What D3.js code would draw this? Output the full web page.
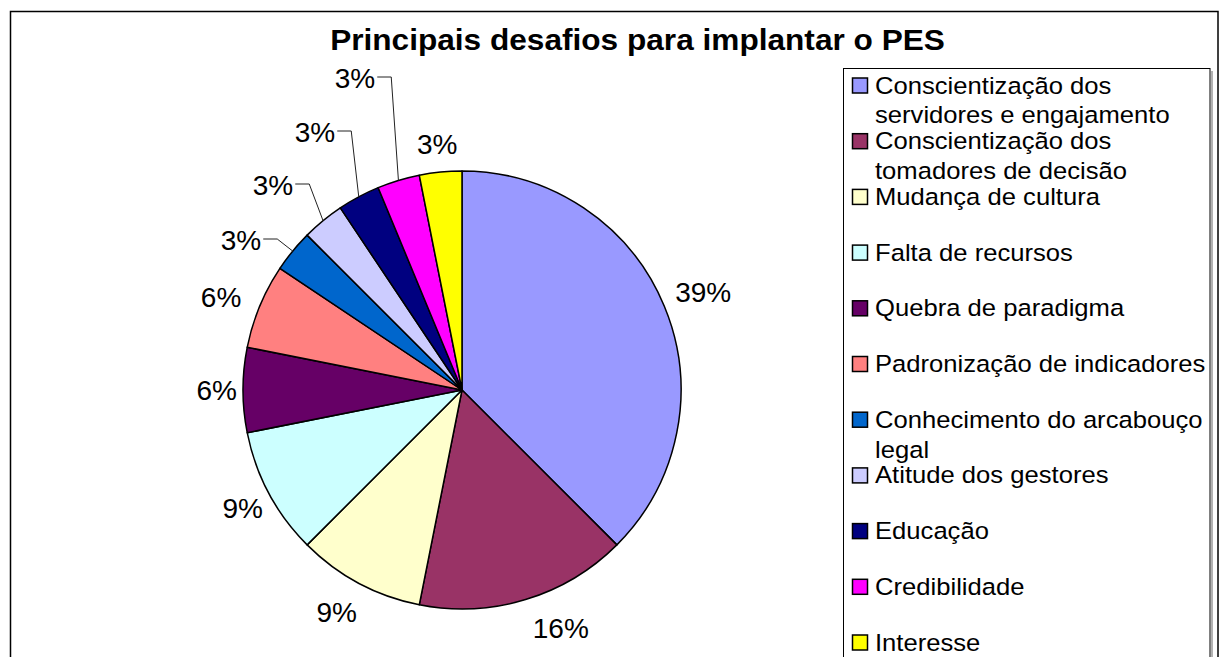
<!DOCTYPE html>
<html><head><meta charset="utf-8">
<script src="https://cdn.jsdelivr.net/npm/d3@7/dist/d3.min.js"></script>
<style>body{margin:0;background:#fff}svg{display:block}text{font-family:"Liberation Sans",Arial,sans-serif;fill:#000}</style>
</head><body><svg id="c" width="1220" height="657"></svg>
<script>
// ---- data ----
const title = "Principais desafios para implantar o PES";
const categories = [
  "Conscientização dos servidores e engajamento",
  "Conscientização dos tomadores de decisão",
  "Mudança de cultura",
  "Falta de recursos",
  "Quebra de paradigma",
  "Padronização de indicadores",
  "Conhecimento do arcabouço legal",
  "Atitude dos gestores",
  "Educação",
  "Credibilidade",
  "Interesse"
];
const values = [12, 5, 3, 3, 2, 2, 1, 1, 1, 1, 1];
const percentLabels = ["39%", "16%", "9%", "9%", "6%", "6%", "3%", "3%", "3%", "3%", "3%"];
const colors = ["#9999FF","#993366","#FFFFCC","#CCFFFF","#660066","#FF8080","#0066CC","#CCCCFF","#000080","#FF00FF","#FFFF00"];

// ---- layout ----
const cx = 462, cy = 390, r = 219, labelR = r + 14;
const labelNudge = {0:[0,-5],1:[23,5],2:[-6,8],3:[4,3],4:[8,0],5:[-7,0],10:[0,-4]};
const leaderLabels = {6:[-221,-150],7:[-189,-205],8:[-147,-258],9:[-107,-312]};

const svg = d3.select("#c");
svg.append("rect").attr("width",1220).attr("height",657).attr("fill","#fff");
svg.append("rect").attr("x",10.5).attr("y",11.5).attr("width",1207.5).attr("height",700)
  .attr("fill","#fff").attr("stroke","#000").attr("stroke-width",1.5);

svg.append("g").attr("transform","translate(637.5,50) scale(1.09,1)")
  .append("text").attr("text-anchor","middle").attr("font-size",29).attr("font-weight","bold").text(title);

const pie = d3.pie().sort(null).value(d => d);
const arcs = pie(values);
const arc = d3.arc().innerRadius(0).outerRadius(r);
const g = svg.append("g").attr("transform",`translate(${cx},${cy})`);
g.selectAll("path.s").data(arcs).join("path").attr("class","s")
  .attr("d",arc).attr("fill",(d,i)=>colors[i]).attr("stroke","#000").attr("stroke-width",1.5).attr("stroke-linejoin","round");

// labels
arcs.forEach((a,i) => {
  const th = (a.startAngle + a.endAngle)/2;
  const s = Math.sin(th), c = Math.cos(th);
  const t = g.append("text").attr("font-size",28).attr("text-anchor","middle").text(percentLabels[i]);
  const w = t.node().getComputedTextLength(), h = 20;
  let x, y;
  if (leaderLabels[i]) {
    [x, y] = leaderLabels[i];
    const xs = x + w/2 + 2, xe = xs + 14, ly = y - 1;
    const mx = r * s, my = -r * c;
    g.append("polyline").attr("points",`${xs},${ly} ${xe},${ly} ${mx},${my}`)
      .attr("fill","none").attr("stroke","#222").attr("stroke-width",1);
  } else {
    x = labelR * s + s * w/2;
    y = -labelR * c - c * h/2;
    const n = labelNudge[i] || [0,0];
    x += n[0]; y += n[1];
  }
  t.attr("x",x).attr("y",y + h/2);
});

// legend
const lx = 843.5, ly0 = 68.5;
svg.append("line").attr("x1",1212).attr("x2",1212).attr("y1",71).attr("y2",657).attr("stroke","#999").attr("stroke-width",1.5);
svg.append("rect").attr("x",lx).attr("y",ly0).attr("width",366.5).attr("height",650)
  .attr("fill","#fff").attr("stroke","#000").attr("stroke-width",1);
const base0 = 93.5, step = 55.7, lineGap = 30, fs = 23.5, sx = 1.09, maxW = 336;
categories.forEach((cat,i) => {
  const base = base0 + i*step;
  svg.append("rect").attr("x",852.5).attr("y",base-15.5).attr("width",15).attr("height",15)
    .attr("fill",colors[i]).attr("stroke","#000").attr("stroke-width",1.5);
  const tg = svg.append("g").attr("transform",`translate(875,${base}) scale(${sx},1)`);
  const words = cat.split(" ");
  let line = [], lineNo = 0;
  let t = tg.append("text").attr("font-size",fs).attr("y",0);
  words.forEach(wd => {
    line.push(wd);
    t.text(line.join(" "));
    if (t.node().getComputedTextLength()*sx > maxW && line.length > 1) {
      line.pop(); t.text(line.join(" "));
      line = [wd]; lineNo++;
      t = tg.append("text").attr("font-size",fs).attr("y",lineNo*lineGap).text(wd);
    }
  });
});
</script></body></html>
